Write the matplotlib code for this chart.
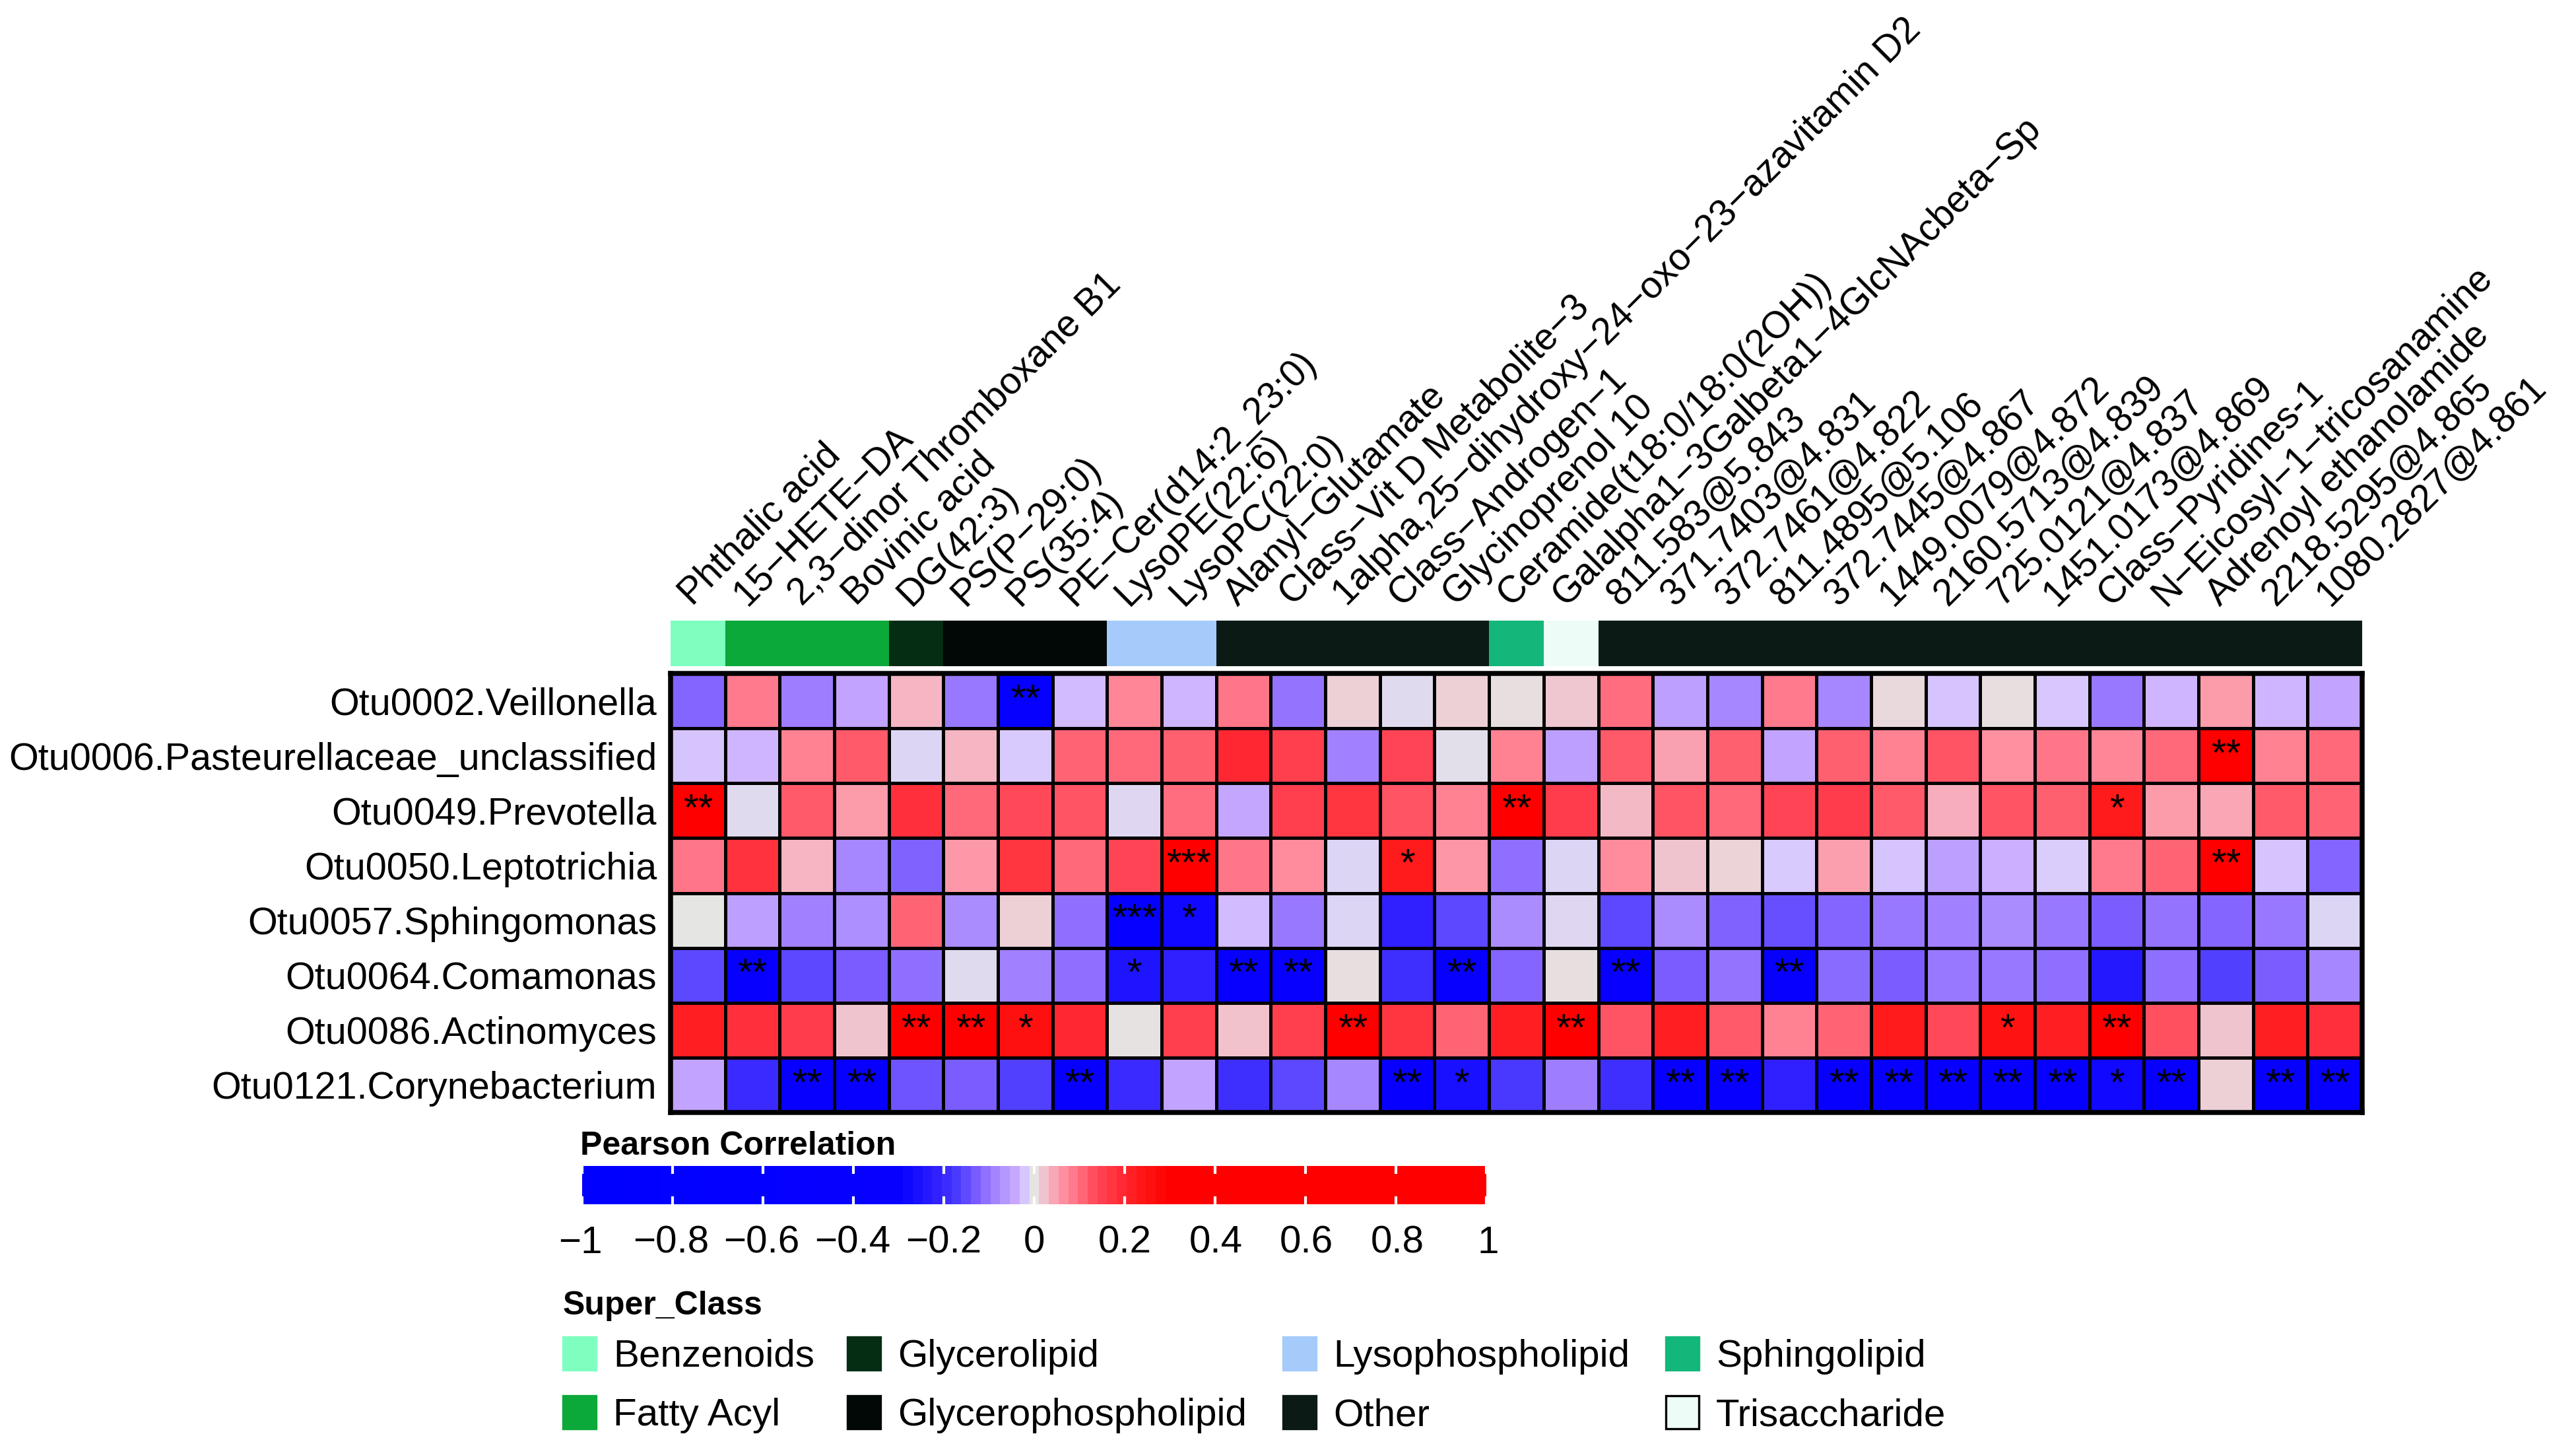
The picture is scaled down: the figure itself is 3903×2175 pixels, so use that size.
import numpy as np
import matplotlib
matplotlib.use("Agg")
import matplotlib.pyplot as plt
from matplotlib.colors import LinearSegmentedColormap, ListedColormap
from matplotlib.patches import Rectangle

plt.rcParams['font.family'] = ['Liberation Sans', 'DejaVu Sans']

# --- data ------------------------------------------------------------------
otus = ["Otu0002.Veillonella", "Otu0006.Pasteurellaceae_unclassified",
        "Otu0049.Prevotella", "Otu0050.Leptotrichia", "Otu0057.Sphingomonas",
        "Otu0064.Comamonas", "Otu0086.Actinomyces", "Otu0121.Corynebacterium"]

metabolites = ["Phthalic acid", "15\u2212HETE\u2212DA", "2,3\u2212dinor Thromboxane B1",
               "Bovinic acid", "DG(42:3)", "PS(P\u221229:0)", "PS(35:4)",
               "PE\u2212Cer(d14:2_23:0)", "LysoPE(22:6)", "LysoPC(22:0)",
               "Alanyl\u2212Glutamate", "Class\u2212Vit D Metabolite\u22123",
               "1alpha,25\u2212dihydroxy\u221224\u2212oxo\u221223\u2212azavitamin D2",
               "Class\u2212Androgen\u22121", "Glycinoprenol 10",
               "Ceramide(t18:0/18:0(2OH))",
               "Galalpha1\u22123Galbeta1\u22124GlcNAcbeta\u2212Sp",
               "811.583@5.843", "371.7403@4.831", "372.7461@4.822",
               "811.4895@5.106", "372.7445@4.867", "1449.0079@4.872",
               "2160.5713@4.839", "725.0121@4.837", "1451.0173@4.869",
               "Class\u2212Pyridines-1", "N\u2212Eicosyl\u22121\u2212tricosanamine",
               "Adrenoyl ethanolamide", "2218.5295@4.865", "1080.2827@4.861"]

super_class = (["Benzenoids"] + ["Fatty Acyl"] * 3 + ["Glycerolipid"]
               + ["Glycerophospholipid"] * 3 + ["Lysophospholipid"] * 2
               + ["Other"] * 5 + ["Sphingolipid", "Trisaccharide"] + ["Other"] * 14)

class_names = ["Benzenoids", "Fatty Acyl", "Glycerolipid", "Glycerophospholipid",
               "Lysophospholipid", "Other", "Sphingolipid", "Trisaccharide"]
class_colors = ["#7effc0", "#0ba83a", "#042d14", "#010805",
                "#a5cbfb", "#0b1a14", "#13b77a", "#edfcf6"]

# Pearson r, rows = otus, cols = metabolites
r_vals = np.array([
    [-0.12, 0.087, -0.095, -0.05, 0.035, -0.10, -0.45, -0.03, 0.075, -0.035, 0.09,
     -0.105, 0.015, -0.008, 0.015, 0.005, 0.02, 0.10, -0.055, -0.085, 0.087, -0.085,
     0.008, -0.025, 0.005, -0.022, -0.10, -0.035, 0.055, -0.035, -0.05],
    [-0.025, -0.035, 0.08, 0.12, -0.012, 0.035, -0.02, 0.11, 0.105, 0.115, 0.20,
     0.155, -0.09, 0.145, -0.005, 0.08, -0.055, 0.12, 0.05, 0.115, -0.05, 0.115,
     0.08, 0.125, 0.065, 0.09, 0.075, 0.105, 0.35, 0.08, 0.105],
    [0.40, -0.008, 0.12, 0.055, 0.185, 0.105, 0.14, 0.125, -0.01, 0.10, -0.045,
     0.155, 0.175, 0.125, 0.08, 0.35, 0.16, 0.03, 0.125, 0.105, 0.145, 0.16,
     0.12, 0.04, 0.125, 0.115, 0.23, 0.055, 0.045, 0.12, 0.11],
    [0.09, 0.18, 0.035, -0.085, -0.125, 0.058, 0.175, 0.105, 0.145, 0.45, 0.09,
     0.07, -0.012, 0.23, 0.06, -0.11, -0.012, 0.07, 0.022, 0.012, -0.02, 0.052,
     -0.025, -0.055, -0.038, -0.018, 0.087, 0.11, 0.38, -0.025, -0.12],
    [0.0, -0.055, -0.09, -0.075, 0.11, -0.08, 0.015, -0.11, -0.55, -0.28, -0.03,
     -0.10, -0.012, -0.22, -0.155, -0.08, -0.01, -0.155, -0.08, -0.125, -0.145, -0.12,
     -0.10, -0.09, -0.08, -0.10, -0.13, -0.105, -0.12, -0.10, -0.012],
    [-0.155, -0.40, -0.155, -0.13, -0.11, -0.008, -0.09, -0.11, -0.25, -0.22, -0.38,
     -0.38, 0.005, -0.19, -0.38, -0.12, 0.005, -0.38, -0.13, -0.105, -0.38, -0.115,
     -0.13, -0.10, -0.10, -0.11, -0.24, -0.11, -0.165, -0.13, -0.085],
    [0.22, 0.185, 0.16, 0.022, 0.36, 0.36, 0.26, 0.20, 0.002, 0.155, 0.025,
     0.155, 0.35, 0.175, 0.11, 0.22, 0.36, 0.125, 0.22, 0.12, 0.08, 0.11,
     0.23, 0.14, 0.25, 0.22, 0.35, 0.13, 0.022, 0.22, 0.185],
    [-0.05, -0.20, -0.38, -0.38, -0.14, -0.13, -0.165, -0.38, -0.20, -0.05, -0.19,
     -0.155, -0.085, -0.38, -0.26, -0.175, -0.095, -0.19, -0.38, -0.38, -0.22, -0.38,
     -0.38, -0.38, -0.38, -0.38, -0.28, -0.38, 0.015, -0.38, -0.38],
])

# significance marks, {column (1-based): label} per row
sig = [
    {7: "**"},
    {29: "**"},
    {1: "**", 16: "**", 27: "*"},
    {10: "***", 14: "*", 29: "**"},
    {9: "***", 10: "*"},
    {2: "**", 9: "*", 11: "**", 12: "**", 15: "**", 18: "**", 21: "**"},
    {5: "**", 6: "**", 7: "*", 13: "**", 17: "**", 25: "*", 27: "**"},
    {3: "**", 4: "**", 8: "**", 14: "**", 15: "*", 19: "**", 20: "**", 22: "**",
     23: "**", 24: "**", 25: "**", 26: "**", 27: "*", 28: "**", 30: "**", 31: "**"},
]

legend_ticks = [-1, -0.8, -0.6, -0.4, -0.2, 0, 0.2, 0.4, 0.6, 0.8, 1]

# --- colour ramp (blue - grey - red, saturating near |r| = 0.3) -------------
stops = [(-1, "#0000ff"), (-0.3, "#0800ff"), (-0.26, "#1810ff"), (-0.22, "#3020ff"),
         (-0.196, "#3c2cff"), (-0.174, "#4a3aff"), (-0.152, "#5f4aff"),
         (-0.13, "#7a5cff"), (-0.109, "#9070ff"), (-0.087, "#a585ff"),
         (-0.065, "#b598ff"), (-0.043, "#c8a8ff"), (-0.022, "#d8c8ff"),
         (0, "#e5e6e4"), (0.022, "#f0c5cf"), (0.043, "#f8a9b8"), (0.065, "#ff90a0"),
         (0.087, "#ff7a8c"), (0.109, "#ff6575"), (0.13, "#ff5060"), (0.152, "#ff4050"),
         (0.174, "#ff3540"), (0.196, "#ff2a35"), (0.217, "#ff2025"), (0.24, "#ff1515"),
         (0.26, "#ff1010"), (0.3, "#ff0000"), (1, "#ff0000")]
cmap = LinearSegmentedColormap.from_list("pc", [((v + 1) / 2, c) for v, c in stops], N=1024)

# --- figure ----------------------------------------------------------------
W, H = 3903, 2175
fig = plt.figure(figsize=(W / 300, H / 300), dpi=300)

def px_axes(x0, y0, x1, y1):
    return fig.add_axes([x0 / W, 1 - y1 / H, (x1 - x0) / W, (y1 - y0) / H])

nrow, ncol = r_vals.shape
hm_x0, hm_x1, hm_y0, hm_y1 = 1016, 3579, 1020, 1685

# heatmap
ax = px_axes(hm_x0, hm_y0, hm_x1, hm_y1)
ax.pcolormesh(r_vals, cmap=cmap, vmin=-1, vmax=1, edgecolors="black", linewidth=1.1)
ax.set_xlim(0, ncol); ax.set_ylim(nrow, 0)
for s in ax.spines.values():
    s.set_linewidth(1.8)
ax.set_xticks([])
ax.set_yticks(np.arange(nrow) + 0.5)
ax.set_yticklabels(otus, fontsize=13.8)
ax.tick_params(axis="y", length=0, pad=5)
for i, row in enumerate(sig):
    for j, lab in row.items():
        ax.text(j - 0.5, i + 0.5, lab, ha="center", va="center", fontsize=14)

# super class annotation bar
ax_a = px_axes(hm_x0, 940, hm_x1, 1009)
codes = np.array([class_names.index(c) for c in super_class])[None, :]
ax_a.pcolormesh(codes, cmap=ListedColormap(class_colors), vmin=-0.5,
                vmax=len(class_names) - 0.5)
ax_a.set_xlim(0, ncol); ax_a.axis("off")

# column names, 45 degrees
for j, name in enumerate(metabolites):
    ax_a.text(j + 0.5, 1.18, name, rotation=45, rotation_mode="anchor",
              ha="left", va="bottom", fontsize=13.6, transform=ax_a.get_xaxis_transform())

# colour legend
lx0, lx1, ly0, ly1 = 879, 2255, 1766, 1824
ax_l = px_axes(lx0, ly0, lx1, ly1)
nstep = 93
centers = -1 + (np.arange(nstep) + 0.5) * 2 / nstep
ax_l.imshow(centers[None, :], aspect="auto", cmap=cmap, vmin=-1, vmax=1,
            extent=[-1, 1, 0, 1], interpolation="nearest")
ax_l.vlines(legend_ticks, 0, 0.2, color="white", lw=1.0)
ax_l.vlines(legend_ticks, 0.8, 1, color="white", lw=1.0)
ax_l.set_xlim(-1.005, 1.005); ax_l.set_ylim(0, 1); ax_l.axis("off")

# overlay in pixel coordinates for the legend texts/swatches
ov = fig.add_axes([0, 0, 1, 1], zorder=-1)
ov.set_xlim(0, W); ov.set_ylim(H, 0); ov.axis("off")
ov.text(lx0, 1749, "Pearson Correlation", fontsize=12, fontweight="bold",
        ha="left", va="baseline")
for t in legend_ticks:
    lab = f"{t:g}".replace("-", "\u2212")
    ov.text(lx0 + (t + 1) / 2 * (lx1 - lx0), 1898, lab, fontsize=14,
            ha="center", va="baseline")

ov.text(853, 1991, "Super_Class", fontsize=12, fontweight="bold", ha="left", va="baseline")
sw_x = [853, 1284, 1944, 2524]
sw_y = [2025, 2114]
for k, (name, col) in enumerate(zip(class_names, class_colors)):
    x, y = sw_x[k // 2], sw_y[k % 2]
    ec = "black" if name == "Trisaccharide" else col
    ov.add_patch(Rectangle((x, y), 50, 50, facecolor=col, edgecolor=ec, lw=0.8))
    ov.text(x + 76, y + 45, name, fontsize=14, ha="left", va="baseline")

fig.savefig("out.png", dpi=300, facecolor="white")
